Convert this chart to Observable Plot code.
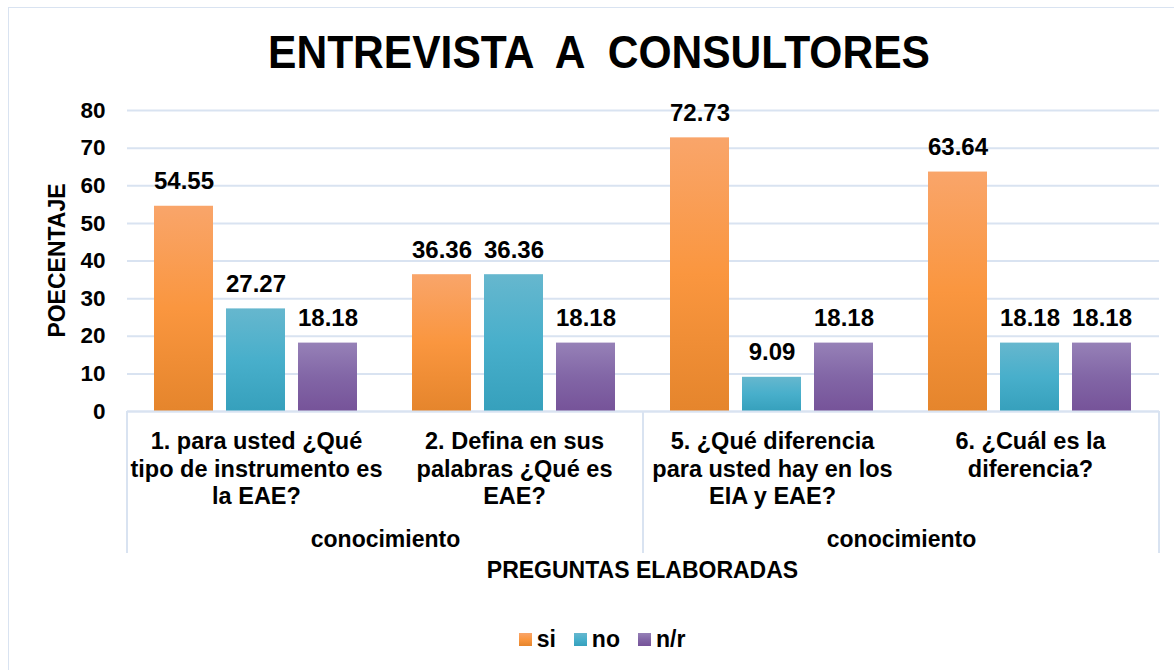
<!DOCTYPE html>
<html>
<head>
<meta charset="utf-8">
<script src="https://cdn.jsdelivr.net/npm/d3@7"></script>
<script src="https://cdn.jsdelivr.net/npm/@observablehq/plot@0.6"></script>
<style>
  body { margin: 0; background: #fff; }
  #wrap { position: relative; width: 1174px; height: 670px; overflow: hidden;
          font-family: 'Liberation Sans', Arial, sans-serif; font-weight: bold; color: #000; }
  #border { position: absolute; left: 8px; top: 7px; width: 1200px; height: 700px;
            border: 1.5px solid #D9E3F1; box-sizing: border-box; }
  #title { position: absolute; left: 12px; top: 29px; width: 1174px; text-align: center;
           font-size: 46px; line-height: 46px; white-space: pre; transform: scaleX(0.925);
           transform-origin: center; }
  #chart { position: absolute; left: 0; top: 0; }
  #legend { position: absolute; left: 0; top: 626px; width: 1174px; height: 26px;
            display: flex; justify-content: center; align-items: center; font-size: 23px;
            padding-left: 30px; box-sizing: border-box; }
  .item { display: flex; align-items: center; margin: 0 9px; }
  .sw { width: 13px; height: 13px; margin-right: 5px; }
</style>
</head>
<body>
<div id="wrap">
  <div id="border"></div>
  <div id="chart"></div>
  <div id="title"></div>
  <div id="legend"></div>
</div>
<script>
// ---- data ----
const title = "ENTREVISTA  A  CONSULTORES";
const yLabel = "POECENTAJE";
const xLabel = "PREGUNTAS ELABORADAS";
const categories = [
  "1. para usted ¿Qué tipo de instrumento es la EAE?",
  "2. Defina en sus palabras ¿Qué es EAE?",
  "5. ¿Qué diferencia para usted hay en los EIA y EAE?",
  "6. ¿Cuál es la diferencia?"
];
const categoryLines = [
  "1. para usted ¿Qué\ntipo de instrumento es\nla EAE?",
  "2. Defina en sus\npalabras ¿Qué es\nEAE?",
  "5. ¿Qué diferencia\npara usted hay en los\nEIA y EAE?",
  "6. ¿Cuál es la\ndiferencia?"
];
const groupNames = ["conocimiento", "conocimiento"];
const groupFirstCategory = [0, 2];
const groupLastCategory = [1, 3];
const seriesNames = ["si", "no", "n/r"];
const siValues = [54.55, 36.36, 72.73, 63.64];
const noValues = [27.27, 36.36, 9.09, 18.18];
const nrValues = [18.18, 18.18, 18.18, 18.18];
const yTicks = [0, 10, 20, 30, 40, 50, 60, 70, 80];

const seriesValues = [siValues, noValues, nrValues];
const gradIds = ["gSi", "gNo", "gNr"];
const gradStops = [
  ["#F9A56A", "#FA963F", "#E5852C"],
  ["#66B7CE", "#48AFCB", "#36A0BC"],
  ["#9681B7", "#8266A6", "#765399"]
];

const data = categories.flatMap((c, i) =>
  seriesNames.map((s, j) => ({cat: c, serie: s, value: seriesValues[j][i], grad: `url(#${gradIds[j]})`}))
);

const gridColor = "#D9E3F1";

const plot = Plot.plot({
  width: 1174,
  height: 670,
  marginLeft: 125,
  marginRight: 14,
  marginTop: 110,
  marginBottom: 259,
  style: {fontFamily: "'Liberation Sans', Arial, sans-serif", fontWeight: "bold", fontSize: "23px", color: "#000", background: "transparent", overflow: "visible"},
  fx: {domain: categories, padding: 0, axis: null},
  x: {domain: seriesNames, paddingInner: 0.175, paddingOuter: 0.36, axis: null},
  y: {domain: [0, 80], axis: null},
  color: {type: "identity"},
  marks: [
    Plot.gridY(yTicks, {stroke: gridColor, strokeOpacity: 1, strokeWidth: 2}),
    Plot.axisY(yTicks, {tickSize: 0, tickPadding: 22, fontSize: 22.5, label: null}),
    Plot.barY(data, {fx: "cat", x: "serie", y: "value", fill: "grad"}),
    Plot.ruleY([0], {stroke: gridColor, strokeWidth: 2}),
    Plot.text(data, {fx: "cat", x: "serie", y: "value", text: d => d.value.toFixed(2),
      lineAnchor: "bottom", dy: -17, fontSize: 24, fill: "#000"}),
    Plot.text(categories, {fx: d => d, text: (d, i) => categoryLines[i], frameAnchor: "bottom",
      lineAnchor: "top", dy: 18, lineHeight: 1.17, fontSize: 23.5, fill: "#000"}),
    Plot.text(groupFirstCategory, {fx: i => categories[i], text: (d, k) => groupNames[k],
      frameAnchor: "bottom-right", textAnchor: "middle", lineAnchor: "bottom", dy: 135, fontSize: 23, fill: "#000"})
  ]
});

document.getElementById("chart").appendChild(plot);

// gradients
const svg = d3.select(plot);
const defs = svg.insert("defs", ":first-child");
gradIds.forEach((id, j) => {
  const g = defs.append("linearGradient").attr("id", id).attr("x1", 0).attr("y1", 0).attr("x2", 0).attr("y2", 1);
  g.append("stop").attr("offset", "0%").attr("stop-color", gradStops[j][0]);
  g.append("stop").attr("offset", "50%").attr("stop-color", gradStops[j][1]);
  g.append("stop").attr("offset", "100%").attr("stop-color", gradStops[j][2]);
});

// group separators, axis titles (positioned from the plot's own scales)
const fx = plot.scale("fx");
const y = plot.scale("y");
const bw = fx.bandwidth;
const y0 = y.apply(0);
const sepXs = groupFirstCategory.map(i => fx.apply(categories[i]))
  .concat([fx.apply(categories[groupLastCategory[groupLastCategory.length - 1]]) + bw]);
const extra = svg.append("g");
sepXs.forEach(xp => {
  extra.append("line").attr("x1", xp).attr("x2", xp).attr("y1", y0).attr("y2", y0 + 142)
    .attr("stroke", gridColor).attr("stroke-width", 2);
});
const xMid = (fx.range[0] + fx.range[1]) / 2;
extra.append("text").attr("x", xMid).attr("y", y0 + 167).attr("text-anchor", "middle")
  .attr("font-size", 23).attr("fill", "#000").text(xLabel);
extra.append("text").attr("transform", `translate(65,${y.apply(40)}) rotate(-90)`)
  .attr("text-anchor", "middle").attr("font-size", 23).attr("fill", "#000").text(yLabel);

// title
document.getElementById("title").textContent = title;

// legend
const legend = document.getElementById("legend");
seriesNames.forEach((s, j) => {
  const it = document.createElement("div");
  it.className = "item";
  const sw = document.createElement("div");
  sw.className = "sw";
  sw.style.background = `linear-gradient(${gradStops[j][0]}, ${gradStops[j][1]}, ${gradStops[j][2]})`;
  const t = document.createElement("span");
  t.textContent = s;
  it.appendChild(sw); it.appendChild(t);
  legend.appendChild(it);
});
</script>
</body>
</html>
